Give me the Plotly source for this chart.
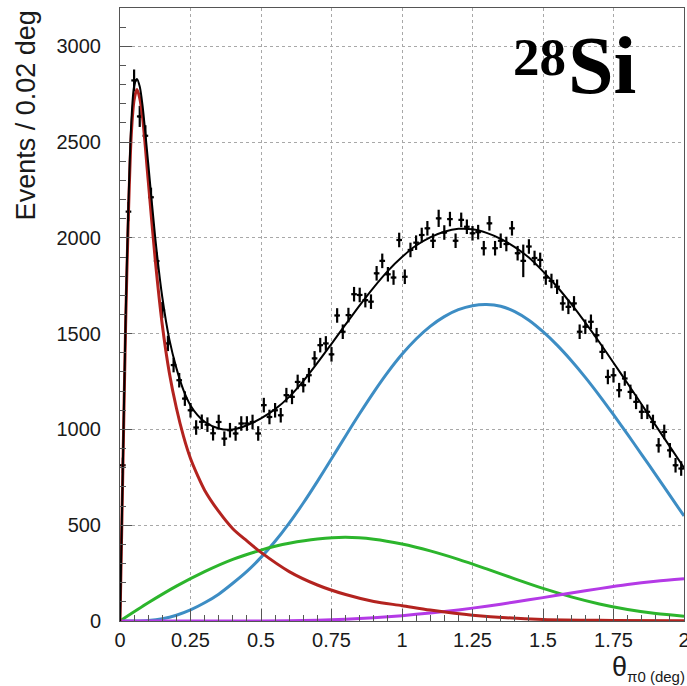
import plotly.graph_objects as go

# ---- data points (bin centres, 0.02 deg bins) ----
bin_centers = [round(0.01 + 0.02 * i, 2) for i in range(100)]
counts = [
    813, 2137, 2822, 2634, 2533, 2212, 1879, 1623, 1449, 1336,
    1257, 1161, 1100, 1010, 1040, 1025, 980, 1039, 952, 996,
    979, 1031, 1031, 1039, 979, 1127, 1065, 1100, 1074, 1179,
    1170, 1248, 1231, 1283, 1371, 1440, 1449, 1392, 1595, 1510,
    1597, 1706, 1702, 1675, 1667, 1815, 1880, 1810, 1793, 1989,
    1797, 1937, 1975, 2015, 2050, 1985, 2102, 2028, 2098, 1985,
    2094, 2058, 2024, 2030, 1946, 2076, 1946, 1985, 1968, 2050,
    1920, 1880, 1955, 1895, 1885, 1793, 1775, 1745, 1658, 1640,
    1658, 1510, 1536, 1562, 1492, 1405, 1274, 1283, 1205, 1266,
    1196, 1144, 1092, 1092, 1039, 917, 987, 891, 813, 796,
]
count_errors = [
    40, 50, 57, 55, 55, 50, 45, 42, 40, 38,
    38, 38, 38, 38, 38, 38, 38, 38, 38, 38,
    38, 38, 38, 38, 38, 38, 38, 38, 38, 38,
    38, 38, 38, 38, 38, 38, 38, 38, 38, 38,
    38, 38, 38, 38, 38, 38, 38, 38, 38, 38,
    38, 38, 38, 38, 38, 38, 45, 38, 38, 38,
    38, 38, 38, 38, 38, 38, 38, 38, 38, 38,
    38, 85, 38, 38, 38, 38, 38, 38, 38, 38,
    38, 38, 38, 38, 38, 38, 38, 38, 38, 38,
    38, 38, 38, 38, 38, 38, 38, 38, 38, 38,
]

# ---- fit curves ----
total_x = [0, 0.01, 0.02, 0.03, 0.04, 0.05, 0.06, 0.07, 0.08, 0.1, 0.125, 0.15, 0.175, 0.2,
           0.225, 0.25, 0.275, 0.3, 0.35, 0.4, 0.45, 0.5, 0.55, 0.6, 0.65, 0.7, 0.75, 0.8,
           0.85, 0.9, 0.95, 1.0, 1.05, 1.1, 1.15, 1.2, 1.25, 1.3, 1.35, 1.4, 1.45, 1.5,
           1.55, 1.6, 1.65, 1.7, 1.75, 1.8, 1.85, 1.9, 1.95, 2.0]
total_y = [0, 800, 1580, 2180, 2600, 2790, 2830, 2790, 2690, 2390, 2000, 1690, 1470, 1320,
           1205, 1125, 1075, 1040, 1005, 1000, 1022, 1058, 1106, 1170, 1252, 1347, 1447, 1548,
           1648, 1742, 1828, 1900, 1960, 2003, 2032, 2047, 2045, 2026, 1995, 1952, 1897, 1825,
           1745, 1655, 1558, 1455, 1348, 1240, 1130, 1020, 910, 800]

red_x = [0, 0.01, 0.02, 0.03, 0.04, 0.05, 0.06, 0.07, 0.08, 0.1, 0.125, 0.15, 0.175, 0.2,
         0.225, 0.25, 0.275, 0.3, 0.35, 0.4, 0.45, 0.5, 0.6, 0.7, 0.8, 0.9, 1.0, 1.1, 1.25,
         1.5, 1.75, 2.0]
red_y = [0, 780, 1550, 2130, 2540, 2720, 2775, 2730, 2630, 2300, 1885, 1545, 1295, 1112,
         965, 848, 760, 683, 572, 482, 418, 358, 258, 188, 138, 102, 80, 57, 30,
         8, 3, 1]

green_x = [0, 0.1, 0.2, 0.3, 0.4, 0.5, 0.55, 0.6, 0.7, 0.8, 0.9, 1.0, 1.1, 1.2, 1.3, 1.4,
           1.5, 1.6, 1.7, 1.8, 1.9, 2.0]
green_y = [0, 95, 182, 258, 322, 370, 390, 406, 428, 437, 427, 402, 366, 322, 272, 220,
           170, 126, 89, 60, 39, 25]

blue_x = [0, 0.05, 0.1, 0.15, 0.2, 0.25, 0.3, 0.35, 0.4, 0.45, 0.5, 0.55, 0.6, 0.65, 0.7,
          0.75, 0.8, 0.85, 0.9, 0.95, 1.0, 1.05, 1.1, 1.15, 1.2, 1.25, 1.3, 1.35, 1.4, 1.45,
          1.5, 1.55, 1.6, 1.65, 1.7, 1.75, 1.8, 1.85, 1.9, 1.95, 2.0]
blue_y = [0, 0, 3, 12, 30, 58, 95, 140, 197, 259, 332, 416, 511, 616, 729,
          847, 966, 1083, 1195, 1299, 1392, 1472, 1538, 1589, 1625, 1646, 1652, 1643, 1615, 1570,
          1510, 1440, 1360, 1272, 1177, 1077, 974, 869, 763, 656, 548]

purple_x = [0, 0.5, 0.6, 0.7, 0.8, 0.9, 1.0, 1.1, 1.2, 1.3, 1.4, 1.5, 1.6, 1.7, 1.8, 1.9, 2.0]
purple_y = [0, 0, 1, 4, 9, 17, 28, 42, 58, 77, 99, 122, 146, 169, 190, 207, 220]

x_ticks = [0, 0.25, 0.5, 0.75, 1, 1.25, 1.5, 1.75, 2]
x_tick_labels = ["0", "0.25", "0.5", "0.75", "1", "1.25", "1.5", "1.75", "2"]
y_ticks = [0, 500, 1000, 1500, 2000, 2500, 3000]
y_tick_labels = ["0", "500", "1000", "1500", "2000", "2500", "3000"]

RED = "#b3231f"
BLUE = "#3d8dc4"
GREEN = "#2cb52c"
PURPLE = "#b43ae6"
SANS = "Liberation Sans, Arial, sans-serif"
SERIF = "Liberation Serif, Times New Roman, serif"

fig = go.Figure()

fig.add_trace(go.Scatter(
    x=bin_centers, y=counts, mode="markers",
    marker=dict(color="black", size=3),
    error_y=dict(type="data", array=count_errors, color="black", thickness=2.2, width=0),
    error_x=dict(type="constant", value=0.01, color="black", thickness=2.2, width=0),
    showlegend=False, hoverinfo="skip"))

for xs, ys, col in [(blue_x, blue_y, BLUE), (green_x, green_y, GREEN),
                    (purple_x, purple_y, PURPLE), (red_x, red_y, RED)]:
    fig.add_trace(go.Scatter(x=xs, y=ys, mode="lines",
                             line=dict(color=col, width=3, shape="spline", smoothing=0.8),
                             showlegend=False, hoverinfo="skip"))

fig.add_trace(go.Scatter(x=total_x, y=total_y, mode="lines",
                         line=dict(color="black", width=2, shape="spline", smoothing=0.8),
                         showlegend=False, hoverinfo="skip"))

axis_common = dict(
    showline=True, linecolor="#555555", linewidth=1, mirror=True,
    showgrid=True, gridcolor="#a8a8a8", griddash="dot", gridwidth=1,
    zeroline=False, ticks="inside", ticklen=12, tickcolor="#555555", tickwidth=1,
    tickfont=dict(family=SANS, size=20, color="#1a1a1a"),
    ticklabeloverflow="allow", automargin=False,
)

fig.update_xaxes(range=[0, 2], tickvals=x_ticks, ticktext=x_tick_labels,
                 minor=dict(ticks="inside", ticklen=6, dtick=0.05, tickcolor="#555555", showgrid=False),
                 ticklabelstandoff=1, **axis_common)
fig.update_yaxes(range=[0, 3200], tickvals=y_ticks, ticktext=y_tick_labels,
                 minor=dict(ticks="inside", ticklen=6, dtick=100, tickcolor="#555555", showgrid=False),
                 ticklabelstandoff=14, **axis_common)

fig.update_layout(
    width=687, height=686,
    margin=dict(l=120, r=3, t=8, b=65, autoexpand=False),
    paper_bgcolor="white", plot_bgcolor="white",
    annotations=[
        dict(text="Events / 0.02 deg", textangle=-90, xref="paper", yref="paper",
             x=-0.166, y=1.0, xanchor="center", yanchor="top", showarrow=False,
             font=dict(family=SANS, size=27, color="#1a1a1a")),
        dict(text="θ<sub><span style='font-size:15px'>π0 (deg)</span></sub>",
             xref="paper", yref="paper",
             x=1.005, y=-0.108, xanchor="right", yanchor="bottom", showarrow=False,
             font=dict(family=SANS, size=27, color="#1a1a1a")),
        dict(text="<b>Si</b>", xref="paper", yref="paper",
             x=0.9184, y=0.907, xanchor="right", yanchor="middle", showarrow=False,
             font=dict(family=SERIF, size=82, color="black")),
        dict(text="<b>28</b>", xref="paper", yref="paper",
             x=0.7943, y=0.920, xanchor="right", yanchor="middle", showarrow=False,
             font=dict(family=SERIF, size=53, color="black")),
    ],
)

fig.write_html("out.html")
